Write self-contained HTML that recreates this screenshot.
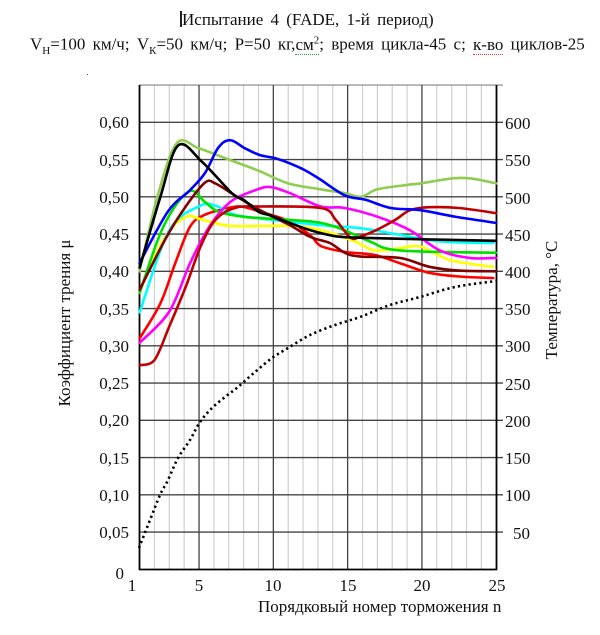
<!DOCTYPE html>
<html><head><meta charset="utf-8">
<style>
html,body{margin:0;padding:0;background:#fff;}
body{width:600px;height:635px;position:relative;overflow:hidden;font-family:"Liberation Serif","DejaVu Serif",serif;color:#111;}
.t{position:absolute;white-space:nowrap;font-size:17px;line-height:1;}
sub,sup{font-size:11px;}
</style></head><body>
<div class="t" style="left:180px;top:11px;font-size:17px;word-spacing:3px"><span style="display:inline-block;width:2px;height:16px;background:#222;vertical-align:-2px;"></span>Испытание 4 (FADE, 1-й период)</div>
<div class="t" style="left:30px;top:35px;font-size:17px;word-spacing:3px">V<sub>Н</sub>=100 км/ч; V<sub>К</sub>=50 км/ч; P=50 кг,<span style="border-bottom:1px dotted #3a3">см<sup>2</sup></span>; время цикла-45 с; <span style="border-bottom:1px dotted #e33">к-во</span> циклов-25</div>
<div style="position:absolute;left:87px;top:74px;width:1px;height:1px;background:#555"></div>

<svg id="s" width="600" height="635" style="position:absolute;left:0;top:0" xmlns="http://www.w3.org/2000/svg">
<g id="grid"></g>
<g id="series" fill="none" stroke-width="2.6" stroke-linejoin="round" stroke-linecap="round"></g>
<g font-family="Liberation Serif, serif" font-size="17" fill="#111">
<text x="129" y="128" text-anchor="end">0,60</text>
<text x="129" y="166" text-anchor="end">0,55</text>
<text x="129" y="203" text-anchor="end">0,50</text>
<text x="129" y="240" text-anchor="end">0,45</text>
<text x="129" y="277" text-anchor="end">0,40</text>
<text x="129" y="315" text-anchor="end">0,35</text>
<text x="129" y="352" text-anchor="end">0,30</text>
<text x="129" y="389" text-anchor="end">0,25</text>
<text x="129" y="426" text-anchor="end">0,20</text>
<text x="129" y="464" text-anchor="end">0,15</text>
<text x="129" y="501" text-anchor="end">0,10</text>
<text x="129" y="538" text-anchor="end">0,05</text>
<text x="124" y="579" text-anchor="end">0</text>
<text x="505" y="129">600</text>
<text x="505" y="166">550</text>
<text x="505" y="204">500</text>
<text x="505" y="241">450</text>
<text x="505" y="278">400</text>
<text x="505" y="315">350</text>
<text x="505" y="352">300</text>
<text x="505" y="390">250</text>
<text x="505" y="427">200</text>
<text x="505" y="464">150</text>
<text x="505" y="501">100</text>
<text x="513" y="539">50</text>
<text x="132" y="591" text-anchor="middle">1</text>
<text x="199" y="591" text-anchor="middle">5</text>
<text x="273" y="591" text-anchor="middle">10</text>
<text x="348" y="591" text-anchor="middle">15</text>
<text x="422" y="591" text-anchor="middle">20</text>
<text x="497" y="591" text-anchor="middle">25</text>
<text x="258" y="612">Порядковый номер торможения n</text>
<text transform="translate(70,323) rotate(-90)" text-anchor="middle">Коэффициент трения  μ</text>
<text transform="translate(557,300) rotate(-90)" text-anchor="middle">Температура, °C</text>
</g>
</svg>
<script>
var X=function(n){return 139.6+(n-1)*14.86;};
var Y=function(m){return 569.3-m*745;};
var g=document.getElementById('grid'),S=document.getElementById('series'),ns="http://www.w3.org/2000/svg";
function el(p,t,a){var e=document.createElementNS(ns,t);for(var k in a)e.setAttribute(k,a[k]);p.appendChild(e);return e;}
for(var n=2;n<25;n++){if(n%5==0)continue;el(g,'line',{x1:X(n),x2:X(n),y1:85,y2:569,stroke:'#cfcfcf','stroke-width':1.2});}
for(var i=1;i<=13;i++){var y=Y(i*0.05);el(g,'line',{x1:139,x2:503,y1:y,y2:y,stroke:i==13?'#999':'#444','stroke-width':1.3});}
[5,10,15,20].forEach(function(n){el(g,'line',{x1:X(n),x2:X(n),y1:85,y2:569,stroke:'#444','stroke-width':1.3});});
el(g,'line',{x1:139.5,x2:139.5,y1:85,y2:570,stroke:'#000','stroke-width':1.8});
el(g,'line',{x1:496.5,x2:496.5,y1:85,y2:570,stroke:'#000','stroke-width':1.8});
el(g,'line',{x1:139,x2:497,y1:569.5,y2:569.5,stroke:'#000','stroke-width':1.8});
function path(pts){var d='M'+pts[0][0]+','+pts[0][1];for(var i=0;i<pts.length-1;i++){var p0=pts[i-1]||pts[i],p1=pts[i],p2=pts[i+1],p3=pts[i+2]||p2;
var c1=[p1[0]+(p2[0]-p0[0])/6,p1[1]+(p2[1]-p0[1])/6],c2=[p2[0]-(p3[0]-p1[0])/6,p2[1]-(p3[1]-p1[1])/6];
d+=' C'+c1[0].toFixed(1)+','+c1[1].toFixed(1)+' '+c2[0].toFixed(1)+','+c2[1].toFixed(1)+' '+p2[0].toFixed(1)+','+p2[1].toFixed(1);}return d;}
function px(a){return a.map(function(p){return [X(p[0]),Y(p[1])];});}
function ser(c,a){el(S,'path',{d:path(px(a)),stroke:c});}
ser('#8fcc50',[[1,0.40],[2.2,0.50],[3.5,0.572],[5,0.565],[7,0.55],[9,0.535],[11,0.518],[13.2,0.510],[14.8,0.505],[15.9,0.500],[17,0.510],[19,0.516],[19.9,0.518],[22.2,0.525],[23.5,0.524],[25,0.518]]);
ser('#ff0000',[[1,0.31],[2.4,0.357],[3.4,0.411],[4.4,0.46],[5.4,0.476],[6.8,0.484],[7.8,0.487],[9.1,0.48],[11.1,0.467],[12.5,0.448],[13.2,0.434],[14.8,0.426],[16.8,0.422],[18.5,0.411],[20.5,0.398],[22.5,0.393],[24.8,0.391]]);
ser('#ffff00',[[1,0.373],[2.7,0.446],[4.1,0.473],[5.1,0.47],[7.1,0.461],[11.1,0.461],[13.2,0.455],[15.5,0.44],[16.8,0.428],[18.5,0.431],[19.9,0.433],[21.9,0.415],[24.8,0.406]]);
ser('#00ffff',[[1,0.345],[3,0.455],[5.1,0.488],[6.1,0.488],[7.4,0.476],[9.1,0.471],[13.2,0.462],[15.8,0.458],[18.5,0.449],[21.2,0.44],[24.8,0.438]]);
ser('#00e000',[[1,0.371],[2.6,0.46],[4.3,0.507],[5.4,0.493],[6.3,0.480],[8.1,0.473],[11.1,0.469],[13.2,0.465],[14.8,0.455],[16.5,0.44],[18.5,0.428],[25,0.425]]);
ser('#ff00ff',[[1,0.304],[3,0.346],[4.4,0.411],[5.7,0.46],[7.1,0.493],[8.8,0.509],[9.8,0.513],[11.1,0.505],[13.2,0.487],[14.8,0.485],[17.2,0.472],[19.2,0.455],[21.2,0.428],[23.2,0.418],[25,0.418]]);
ser('#800000',[[1,0.375],[2.7,0.442],[4.1,0.487],[5.4,0.519],[6.1,0.518],[7.4,0.502],[9.1,0.482],[11.1,0.462],[12.5,0.446],[13.8,0.438],[14.8,0.425],[15.8,0.42],[18.5,0.418],[20.5,0.406],[22.5,0.401],[25,0.40]]);
ser('#c00000',[[1,0.274],[2,0.281],[3,0.326],[4.1,0.379],[5.1,0.433],[6.1,0.469],[7.4,0.485],[9.1,0.487],[13.2,0.485],[14.2,0.469],[15.2,0.445],[15.9,0.447],[17,0.456],[18.2,0.469],[19.2,0.482],[20.5,0.486],[22.5,0.485],[25,0.478]]);
ser('#0000ff',[[1,0.411],[2.9,0.48],[4.4,0.509],[5.4,0.532],[6.3,0.566],[7.1,0.576],[8.1,0.565],[9.1,0.556],[10.1,0.552],[11.1,0.545],[12.1,0.536],[13.1,0.524],[14.8,0.502],[16.2,0.496],[17.9,0.485],[19.9,0.482],[22.3,0.473],[25,0.465]]);
ser('#000000',[[1,0.405],[2.4,0.50],[3.6,0.569],[5.2,0.547],[7.2,0.505],[8,0.496],[9,0.480],[9.8,0.475],[11.1,0.465],[12.5,0.455],[14.2,0.447],[16,0.445],[20,0.443],[25,0.441]]);
var tp=[[139,548],[150,520],[160,495],[168,480],[178,458],[190,440],[200,422],[212,408],[225,397],[238,387],[255,372],[272,358],[288,348],[310,335],[335,325],[360,317],[390,305],[420,297],[455,287],[496,281]];
el(S,'path',{d:path(tp),stroke:'#000','stroke-width':2.6,'stroke-dasharray':'2.2,3.2','stroke-linecap':'butt'});
</script>
</body></html>
